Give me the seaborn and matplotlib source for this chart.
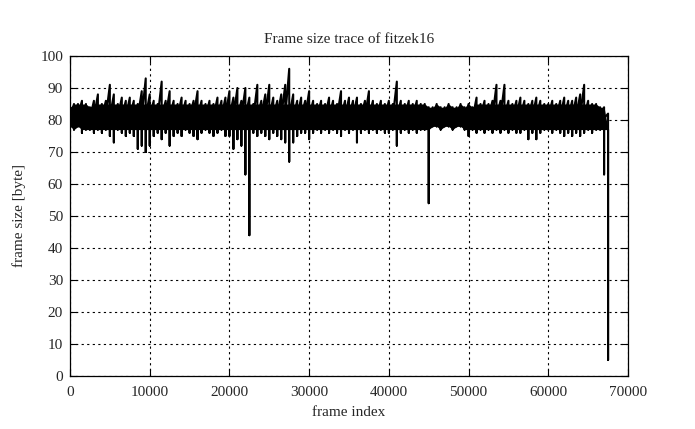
import numpy as np
import pandas as pd
import seaborn as sns
import matplotlib
matplotlib.use("Agg")
import matplotlib.pyplot as plt

# SETTING
title = "Frame size trace of fitzek16"
x_label = "frame index"
y_label = "frame size [byte]"
bin_size = 500  # frames per envelope bin

# upper / lower envelope of the trace, one value per 500-frame bin
hi_vals = [84, 85, 85, 86, 85, 84, 86, 88, 85, 86, 91, 88, 85, 87, 86, 87, 86, 85, 89, 93,
           88, 86, 85, 92, 86, 89, 86, 85, 87, 86, 85, 86, 89, 86, 85, 86, 85, 87, 86, 87,
           89, 87, 90, 86, 90, 87, 85, 91, 86, 88, 91, 87, 86, 88, 91, 96, 88, 86, 87, 86,
           89, 86, 85, 86, 85, 87, 86, 85, 89, 86, 87, 86, 87, 85, 86, 89, 86, 85, 86, 85,
           86, 85, 92, 86, 85, 86, 85, 86, 85, 85, 84, 84, 85, 84, 84, 85, 84, 84, 85, 84,
           85, 84, 87, 85, 86, 85, 86, 91, 86, 91, 86, 85, 86, 87, 86, 85, 86, 87, 86, 85,
           85, 86, 85, 86, 87, 86, 86, 87, 88, 91, 86, 85, 85, 84, 84, 82]
lo_vals = [78, 77, 78, 76, 77, 77, 76, 77, 76, 77, 75, 73, 77, 76, 75, 76, 75, 71, 72, 70,
           72, 75, 76, 74, 76, 72, 75, 76, 75, 77, 76, 75, 74, 76, 77, 76, 75, 76, 77, 75,
           75, 71, 74, 72, 63, 44, 76, 75, 76, 75, 74, 76, 75, 74, 73, 67, 73, 75, 76, 76,
           74, 76, 77, 76, 77, 76, 77, 76, 75, 77, 76, 77, 73, 76, 77, 76, 77, 76, 77, 76,
           76, 77, 72, 76, 77, 76, 77, 76, 77, 77, 54, 78, 78, 77, 78, 78, 77, 78, 78, 77,
           75, 77, 76, 77, 76, 77, 76, 77, 76, 77, 76, 77, 76, 76, 77, 74, 76, 74, 76, 77,
           77, 76, 77, 76, 75, 76, 75, 76, 75, 76, 77, 76, 77, 77, 63, 5]

x_ticks = [0, 10000, 20000, 30000, 40000, 50000, 60000, 70000]
y_ticks = [0, 10, 20, 30, 40, 50, 60, 70, 80, 90, 100]

# dense core of the trace (where the frames overlap into a solid band)
core_hi = np.minimum(hi_vals, 85)
core_lo = np.maximum(lo_vals, 77)
core_hi[-1] = core_lo[-1]
core_mid = (core_hi + core_lo) / 2

# BUILD TRACE: per bin one vertical stroke mid -> hi -> lo -> mid
bin_start = np.arange(len(hi_vals)) * bin_size
frames = np.repeat(bin_start, 3)
sizes = np.column_stack([hi_vals, lo_vals, core_mid]).ravel()
df = pd.DataFrame({"frame": frames, "size": sizes})

sns.set_style("ticks")
plt.rcParams['font.family'] = ['Liberation Serif', 'DejaVu Serif']
plt.rcParams['xtick.direction'] = 'in'
plt.rcParams['ytick.direction'] = 'in'

fig = plt.figure(figsize=(6.95, 4.29), dpi=100)
ax = fig.add_axes([70 / 695, 1 - 376 / 429, 558 / 695, 320 / 429])

ax.fill_between(bin_start, core_lo, core_hi, color="black", linewidth=0)
sns.lineplot(x="frame", y="size", data=df, ax=ax, color="black", linewidth=1.5,
             estimator=None, sort=False)

ax.set_xlim(0, 70000)
ax.set_ylim(0, 100)
ax.set_xticks(x_ticks)
ax.set_yticks(y_ticks)
ax.set_xticklabels([str(t) for t in x_ticks], fontsize=11)
ax.set_yticklabels([str(t) for t in y_ticks], fontsize=11)
ax.tick_params(top=True, right=True, length=5, width=0.8, color="black")
ax.tick_params(axis="x", pad=7)
ax.tick_params(axis="y", pad=5)
ax.grid(True, linestyle=(0, (2, 3)), color="black", linewidth=0.8)
for s in ax.spines.values():
    s.set_color("black")
    s.set_linewidth(0.9)

ax.set_xlabel(x_label, fontsize=11, labelpad=5)
ax.set_ylabel(y_label, fontsize=11, labelpad=10)
ax.set_title(title, fontsize=11, pad=9)

plt.savefig("out.png", dpi=100)
plt.close()
